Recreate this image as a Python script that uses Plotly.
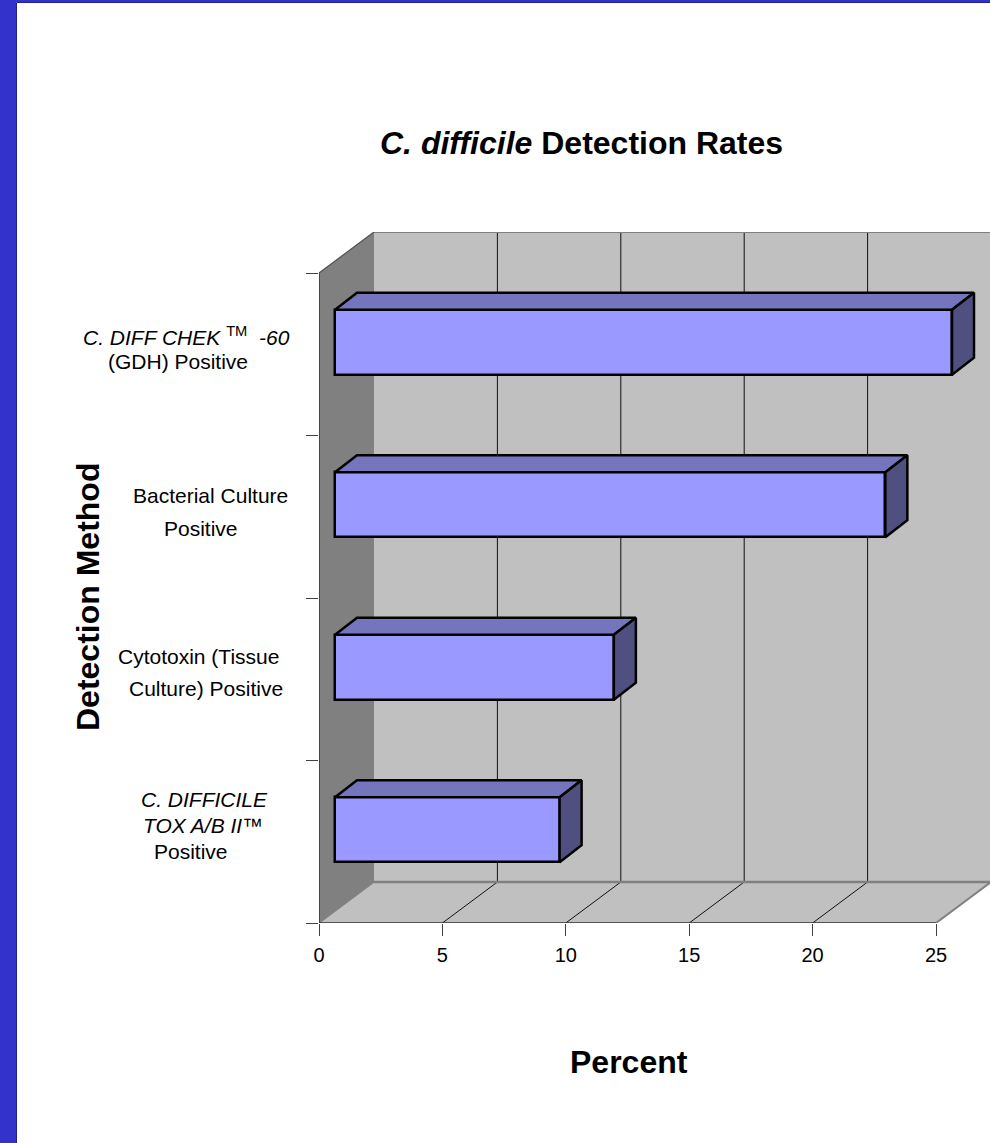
import plotly.graph_objects as go

# ---- data ----
categories = ["C. DIFFICILE TOX A/B II Positive", "Cytotoxin (Tissue Culture) Positive",
              "Bacterial Culture Positive", "C. DIFF CHEK -60 (GDH) Positive"]
percent = [9.1, 11.3, 22.3, 25.0]
x_ticks = [0, 5, 10, 15, 20, 25]
x_tick_labels = ["0", "5", "10", "15", "20", "25"]
title_text = "<b><i>C. difficile</i> Detection Rates</b>"
x_title = "Percent"
y_title = "Detection Method"
label_lines = [
    ["<i>C. DIFFICILE</i>", "<i>TOX A/B II™</i>", "Positive"],
    ["Cytotoxin (Tissue", "Culture) Positive"],
    ["Bacterial Culture", "Positive"],
    ["<i>C. DIFF CHEK</i> <sup>TM</sup> <i> -60</i>", "(GDH) Positive"],
]
label_pos = [
    [(204.5, 799), (203, 825), (191, 851)],
    [(198, 656), (206, 688)],
    [(210, 496), (201, 528)],
    [(186.5, 336), (178, 361)],
]

# ---- layout constants ----
W, H = 990, 1143
PX_X0, PX_Y0, PX_YTOP = 319, 923, 232
UX, UY = 24.68, 162.5             # px per percent / px per category band
DX, DY = 55 / UX, 41 / UY         # chart depth in data units
BAR_OX, BAR_OY = 16 / UX, 12 / UY # front face offset of the bars
BAR_DX, BAR_DY = 22 / UX, 17 / UY # bar depth
BAR_H = 65 / UY
XMAX = (W - PX_X0) / UX
YMAX = (PX_Y0 - PX_YTOP) / UY
N = len(categories)

FRONT, TOP, SIDE = "#9999FF", "#7575BD", "#505080"
WALL, BACK, EDGE = "#808080", "#C0C0C0", "#808080"
BLUE = "#3333CC"

fig = go.Figure()
centers = [i + 0.5 + BAR_OY for i in range(N)]

fig.add_trace(go.Bar(
    y=centers, x=percent, base=[BAR_OX] * N, orientation="h", width=BAR_H,
    marker=dict(color=FRONT, line=dict(color="black", width=2.5)),
    hovertext=categories, showlegend=False,
))

for c, v in zip(centers, percent):
    x0, x1 = BAR_OX, BAR_OX + v
    top = c + BAR_H / 2
    bot = c - BAR_H / 2
    fig.add_trace(go.Scatter(
        x=[x0, x1, x1 + BAR_DX, x0 + BAR_DX, x0],
        y=[top, top, top + BAR_DY, top + BAR_DY, top],
        mode="lines", fill="toself", fillcolor=TOP,
        line=dict(color="black", width=2.5), showlegend=False, hoverinfo="skip",
    ))
    fig.add_trace(go.Scatter(
        x=[x1, x1 + BAR_DX, x1 + BAR_DX, x1, x1],
        y=[top, top + BAR_DY, bot + BAR_DY, bot, top],
        mode="lines", fill="toself", fillcolor=SIDE,
        line=dict(color="black", width=2.5), showlegend=False, hoverinfo="skip",
    ))

shapes = []


def poly(xs, ys, fill, line=None, width=1.5):
    path = "M " + " L ".join(f"{a},{b}" for a, b in zip(xs, ys)) + " Z"
    shapes.append(dict(type="path", path=path, xref="x", yref="y", layer="below",
                       fillcolor=fill, line=dict(color=line or fill, width=width)))


def seg(x0, y0, x1, y1, color="#202020", width=1.0):
    shapes.append(dict(type="line", x0=x0, y0=y0, x1=x1, y1=y1, xref="x", yref="y",
                       layer="below", line=dict(color=color, width=width)))


# back wall
poly([DX, XMAX, XMAX, DX], [DY, DY, N + DY, N + DY], BACK, BACK, 0)
# side wall
poly([0, DX, DX, 0], [0, DY, N + DY, N], WALL, WALL, 0)
# floor
poly([0, x_ticks[-1], x_ticks[-1] + DX, DX], [0, 0, DY, DY], BACK, BACK, 0)
# grid on the back wall and floor
for t in x_ticks[1:-1]:
    seg(t + DX, DY, t + DX, N + DY, "#101010", 1.0)
    seg(t, 0, t + DX, DY, "#101010", 1.0)
# edges
seg(DX, N + DY, XMAX, N + DY, EDGE, 2)
seg(0, N, DX, N + DY, "#505050", 1.2)
seg(DX, DY, XMAX, DY, EDGE, 2.5)
seg(0, 0, DX, DY, EDGE, 1.5)
seg(x_ticks[-1], 0, x_ticks[-1] + DX, DY, EDGE, 2)
seg(0, 0, 0, N, "#303030", 1.5)
seg(0, 0, x_ticks[-1], 0, "#303030", 1.5)

# page frame
shapes.append(dict(type="rect", xref="paper", yref="paper", x0=0, x1=16 / W, y0=0, y1=1,
                   fillcolor=BLUE, line=dict(width=0), layer="below"))
shapes.append(dict(type="rect", xref="paper", yref="paper", x0=0, x1=1, y0=1 - 2 / H, y1=1,
                   fillcolor=BLUE, line=dict(width=0), layer="below"))
shapes.append(dict(type="line", xref="paper", yref="paper", x0=16.5 / W, x1=16.5 / W, y0=0, y1=1 - 2.5 / H,
                   line=dict(color="#20208A", width=1), layer="below"))
shapes.append(dict(type="line", xref="paper", yref="paper", x0=16.5 / W, x1=1, y0=1 - 2.5 / H, y1=1 - 2.5 / H,
                   line=dict(color="#20208A", width=1), layer="below"))

FONT = "Liberation Sans, Arial, sans-serif"
annotations = []


def ann(text, cx, cy, size, angle=0):
    annotations.append(dict(text=text, x=cx / W, y=1 - cy / H, xref="paper", yref="paper",
                            xanchor="center", yanchor="middle", showarrow=False, textangle=angle,
                            font=dict(family=FONT, size=size, color="black")))


for lines, pos in zip(label_lines, label_pos):
    for t, (cx, cy) in zip(lines, pos):
        ann(t, cx, cy, 21)
ann(title_text, 581, 143, 32)
ann(f"<b>{x_title}</b>", 629, 1062, 32)
ann(f"<b>{y_title}</b>", 88, 597, 32, angle=-90)

fig.update_layout(
    width=W, height=H, margin=dict(l=0, r=0, t=0, b=0, pad=0, autoexpand=False),
    paper_bgcolor="white", plot_bgcolor="rgba(0,0,0,0)",
    showlegend=False, bargap=0, font=dict(family=FONT, size=20, color="black"),
    shapes=shapes, annotations=annotations,
    xaxis=dict(domain=[PX_X0 / W, 1], range=[0, XMAX], tickvals=x_ticks, ticktext=x_tick_labels,
               ticks="outside", ticklen=12, tickcolor="#404040", tickwidth=1.2, showgrid=False,
               zeroline=False, showline=False, tickfont=dict(family=FONT, size=20), anchor="y",
               ticklabelstandoff=2),
    yaxis=dict(domain=[1 - PX_Y0 / H, 1 - PX_YTOP / H], range=[0, YMAX], tickvals=list(range(N + 1)),
               showticklabels=False, ticks="outside", ticklen=12, tickcolor="#404040", tickwidth=1.2,
               showgrid=False, zeroline=False, showline=False, anchor="x"),
)

fig.write_html("out.html", config={"displayModeBar": False},
               post_script="document.body.style.margin='0';document.body.style.overflow='hidden';")
